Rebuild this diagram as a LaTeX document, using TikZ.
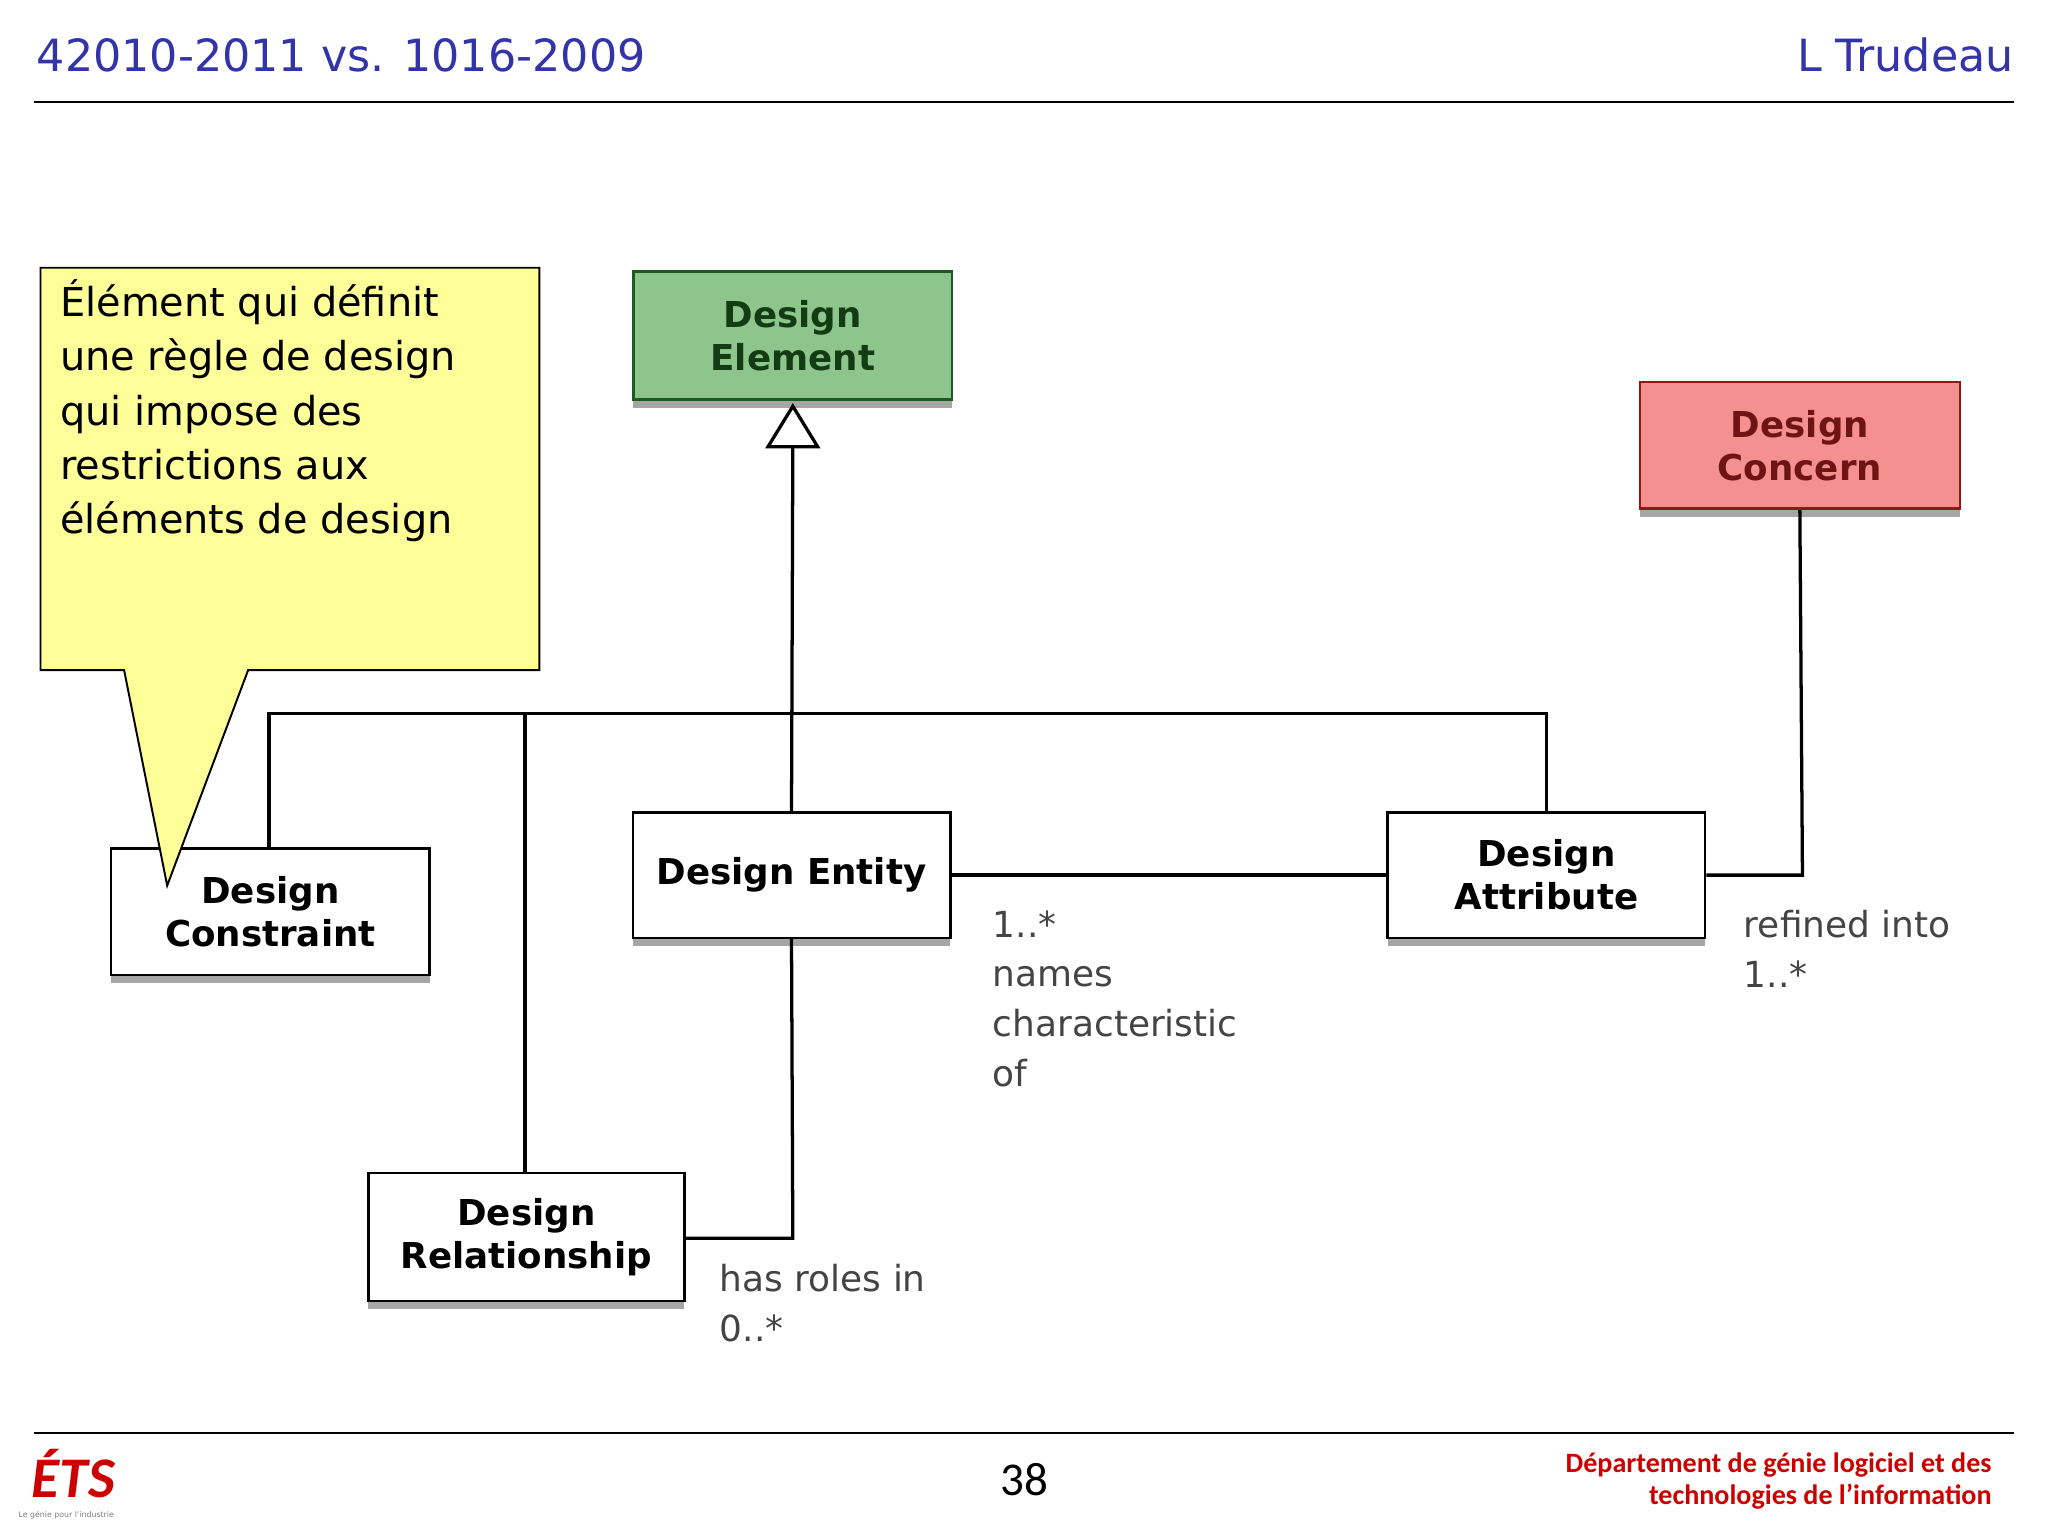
\documentclass[tikz,border=0pt]{standalone}
\usepackage{fontspec}
\setmainfont{DejaVu Sans}
\newfontfamily\carl{Carlito}
\usetikzlibrary{shadows,arrows.meta}
\definecolor{ttl}{HTML}{3333AA}
\definecolor{lbl}{HTML}{444444}
\tikzset{
 box/.style={draw=black,line width=2pt,fill=white,align=center,font=\bfseries\fontsize{27.3}{33}\selectfont,inner sep=0pt,
   drop shadow={shadow xshift=0pt,shadow yshift=-6pt,fill=gray!70,opacity=1}},
 conn/.style={line width=2.5pt},
 lab/.style={anchor=north west,align=left,text=lbl,font=\fontsize{27.5}{38}\selectfont,inner sep=0pt}
}
\begin{document}
\begin{tikzpicture}[x=1pt,y=-1pt]
\useasboundingbox (0,0) rectangle (1568,1176);
\fill[white] (0,0) rectangle (1568,1176);
% header
\node[anchor=west,text=ttl,font=\fontsize{34}{40}\selectfont,inner sep=0] (t1) at (28,42) {42010-2011 vs. 1016-2009};
\node[anchor=east,text=ttl,font=\fontsize{34}{40}\selectfont,inner sep=0] (t2) at (1542,42) {L Trudeau};
\draw[line width=1.5pt] (26,78) -- (1542,78);
\draw[line width=1.5pt] (26,1097) -- (1542,1097);
\node[font=\carl\fontsize{36}{40}\selectfont] (pg) at (784,1133) {38};
\node[anchor=east,align=right,text=red!80!black,font=\carl\bfseries\fontsize{21.5}{25}\selectfont,inner sep=0] (ft) at (1525,1134) {Département de génie logiciel et des\\technologies de l’information};
\node[anchor=west,text=red!80!black,font=\carl\bfseries\itshape\fontsize{44}{44}\selectfont,inner sep=0] (logo) at (24,1128) {ÉTS};
\node[anchor=west,text=gray,font=\fontsize{6}{7}\selectfont,inner sep=0] (logo2) at (14,1160) {Le génie pour l'industrie};
% boxes
\node[box,fill={rgb,255:red,141;green,197;blue,141},draw={rgb,255:red,30;green,90;blue,30},text={rgb,255:red,20;green,60;blue,20},minimum width=244,minimum height=98] (de) at (607,257) {Design\\Element};
\node[box,fill={rgb,255:red,245;green,144;blue,144},draw={rgb,255:red,150;green,20;blue,20},text={rgb,255:red,110;green,20;blue,20},minimum width=245,minimum height=97] (dc) at (1378,341) {Design\\Concern};
\node[box,minimum width=243,minimum height=96] (en) at (606,670) {Design Entity};
\node[box,minimum width=243,minimum height=96] (at) at (1184,670) {Design\\Attribute};
\node[box,minimum width=244,minimum height=97] (cs) at (207,698) {Design\\Constraint};
\node[box,minimum width=242,minimum height=98] (rl) at (403,947) {Design\\Relationship};
% callout
\draw[line width=1.5pt,fill={rgb,255:red,255;green,255;blue,153}] (31,205) -- (413,205) -- (413,513) -- (190,513) -- (128,678) -- (95,513) -- (31,513) -- cycle;
\node[anchor=north west,align=left,font=\fontsize{30.5}{41.5}\selectfont,inner sep=0] (co) at (46,214) {Élément qui définit\\une règle de design\\qui impose des\\restrictions aux\\éléments de design};
% generalization
\coordinate (tb) at (607,342);
\draw[conn] (en.north) -- (tb);
\draw[line width=2.5pt,fill=white] (607,311) -- (626,342) -- (588,342) -- cycle;
\coordinate (h1) at (206,546); \coordinate (h2) at (1184,546);
\draw[conn] (cs.north -| h1) -- (h1) -- (h2) -- (at.north);
\draw[conn] (402,546) -- (rl.north -| 402,0);
\draw[conn] (en.east) -- (at.west);
\draw[conn] (dc.south) -- (1380,670) -- (at.east);
\draw[conn] (en.south) -- (607,948) -- (rl.east |- 0,948);
% labels
\node[lab] (l1) at (760,697) {1..*\\names\\characteristic\\of};
\node[lab] (l2) at (1335,697) {refined into\\1..*};
\node[lab] (l3) at (551,968) {has roles in\\0..*};
\end{tikzpicture}
\end{document}
